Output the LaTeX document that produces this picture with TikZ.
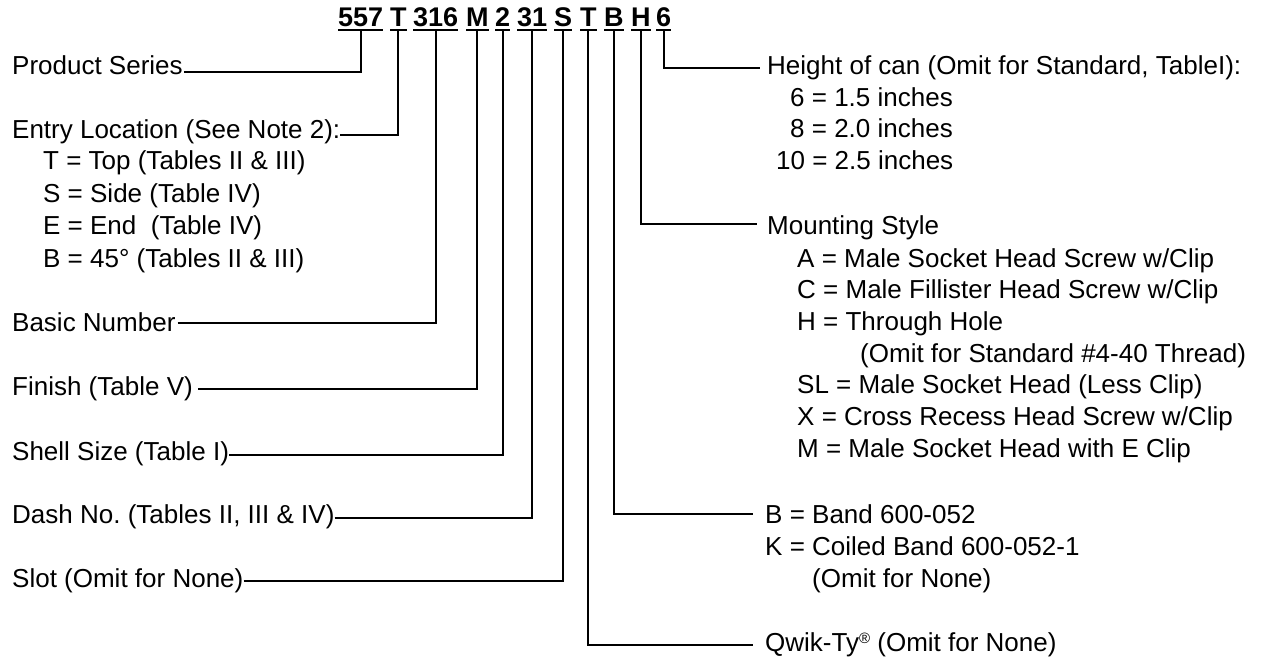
\documentclass[tikz,border=0pt]{standalone}
\usepackage{fontspec}
\setmainfont{Liberation Sans}
\frenchspacing
\begin{document}
\begin{tikzpicture}[x=1pt,y=-1pt,
  conn/.style={line width=2pt, line join=miter},
  ul/.style={line width=2pt},
  lbl/.style={anchor=base west, inner sep=0pt, font=\fontsize{26}{31}\selectfont},
  pn/.style={anchor=base west, inner sep=0pt, font=\fontsize{27}{32}\selectfont\bfseries}]
\useasboundingbox (0,0) rectangle (1267,658);

% part number groups
\node[pn] (p1) at (338,27) {557};
\node[pn] (p2) at (390,27) {T};
\node[pn] (p3) at (413,27) {316};
\node[pn] (p4) at (466,27) {M};
\node[pn] (p5) at (495,27) {2};
\node[pn] (p6) at (517,27) {31};
\node[pn] (p7) at (554,27) {S};
\node[pn] (p8) at (580,27) {T};
\node[pn] (p9) at (604,27) {B};
\node[pn] (p10) at (631,27) {H};
\node[pn] (p11) at (656,27) {6};
\foreach \p in {p1,p2,p3,p4,p5,p6,p7,p8,p9,p10,p11}
  \draw[ul] ([yshift=-2.5pt]\p.south west) -- ([yshift=-2.5pt]\p.south east);

% left labels
\node[lbl] (ps) at (12,75) {Product Series};
\node[lbl] (el) at (12,139) {Entry Location (See Note 2):};
\node[lbl] (elt) at (43,170) {T = Top (Tables II \& III)};
\node[lbl] (els) at (43,202) {S = Side (Table IV)};
\node[lbl] (ele) at (43,234) {E = End\ \ (Table IV)};
\node[lbl] (elb) at (43,267) {B = 45° (Tables II \& III)};
\node[lbl] (bn) at (12,331) {Basic Number};
\node[lbl] (fi) at (12,395) {Finish (Table V)};
\node[lbl] (sh) at (12,460) {Shell Size (Table I)};
\node[lbl] (dn) at (12,523) {Dash No. (Tables II, III \& IV)};
\node[lbl] (sl) at (12,587) {Slot (Omit for None)};

% right labels
\node[lbl] (hc) at (767,75) {Height of can (Omit for Standard, TableI):};
\node[lbl] (h6) at (790,107) {6 = 1.5 inches};
\node[lbl] (h8) at (790,138) {8 = 2.0 inches};
\node[lbl] (h10) at (776,170) {10 = 2.5 inches};
\node[lbl] (ms) at (767,234) {Mounting Style};
\node[lbl] (msa) at (797,267) {A = Male Socket Head Screw w/Clip};
\node[lbl] (msc) at (797,298) {C = Male Fillister Head Screw w/Clip};
\node[lbl] (msh) at (797,330) {H = Through Hole};
\node[lbl] (msho) at (860,362) {(Omit for Standard \#4-40 Thread)};
\node[lbl] (mssl) at (797,393) {SL = Male Socket Head (Less Clip)};
\node[lbl] (msx) at (797,425) {X = Cross Recess Head Screw w/Clip};
\node[lbl] (msm) at (797,457) {M = Male Socket Head with E Clip};
\node[lbl] (bb) at (765,523) {B = Band 600-052};
\node[lbl] (bk) at (765,555) {K = Coiled Band 600-052-1};
\node[lbl] (bo) at (812,587) {(Omit for None)};
\node[lbl] (qt) at (765,651) {Qwik-Ty\raisebox{0.55ex}{\fontsize{15}{15}\selectfont ®} (Omit for None)};

% connectors left
\draw[conn] ([xshift=1pt,yshift=3pt]ps.base east) -| ([yshift=-2.5pt]p1.south);
\draw[conn] ([xshift=0pt,yshift=4pt]el.base east) -| ([yshift=-2.5pt]p2.south);
\draw[conn] ([xshift=2pt,yshift=8pt]bn.base east) -| ([yshift=-2.5pt]p3.south);
\draw[conn] ([xshift=5pt,yshift=6pt]fi.base east) -| ([yshift=-2.5pt]p4.south);
\draw[conn] ([xshift=0pt,yshift=5pt]sh.base east) -| ([yshift=-2.5pt]p5.south);
\draw[conn] ([xshift=0pt,yshift=5pt]dn.base east) -| ([yshift=-2.5pt]p6.south);
\draw[conn] ([xshift=0pt,yshift=6pt]sl.base east) -| ([yshift=-2.5pt]p7.south);

% connectors right
\draw[conn] ([yshift=-2.5pt]p8.south) |- ([xshift=-12pt,yshift=6pt]qt.base west);
\draw[conn] ([yshift=-2.5pt]p9.south) |- ([xshift=-12pt,yshift=9pt]bb.base west);
\draw[conn] ([yshift=-2.5pt]p10.south) |- ([xshift=-10pt,yshift=10pt]ms.base west);
\draw[conn] ([yshift=-2.5pt]p11.south) |- ([xshift=-7pt,yshift=7pt]hc.base west);
\end{tikzpicture}
\end{document}
